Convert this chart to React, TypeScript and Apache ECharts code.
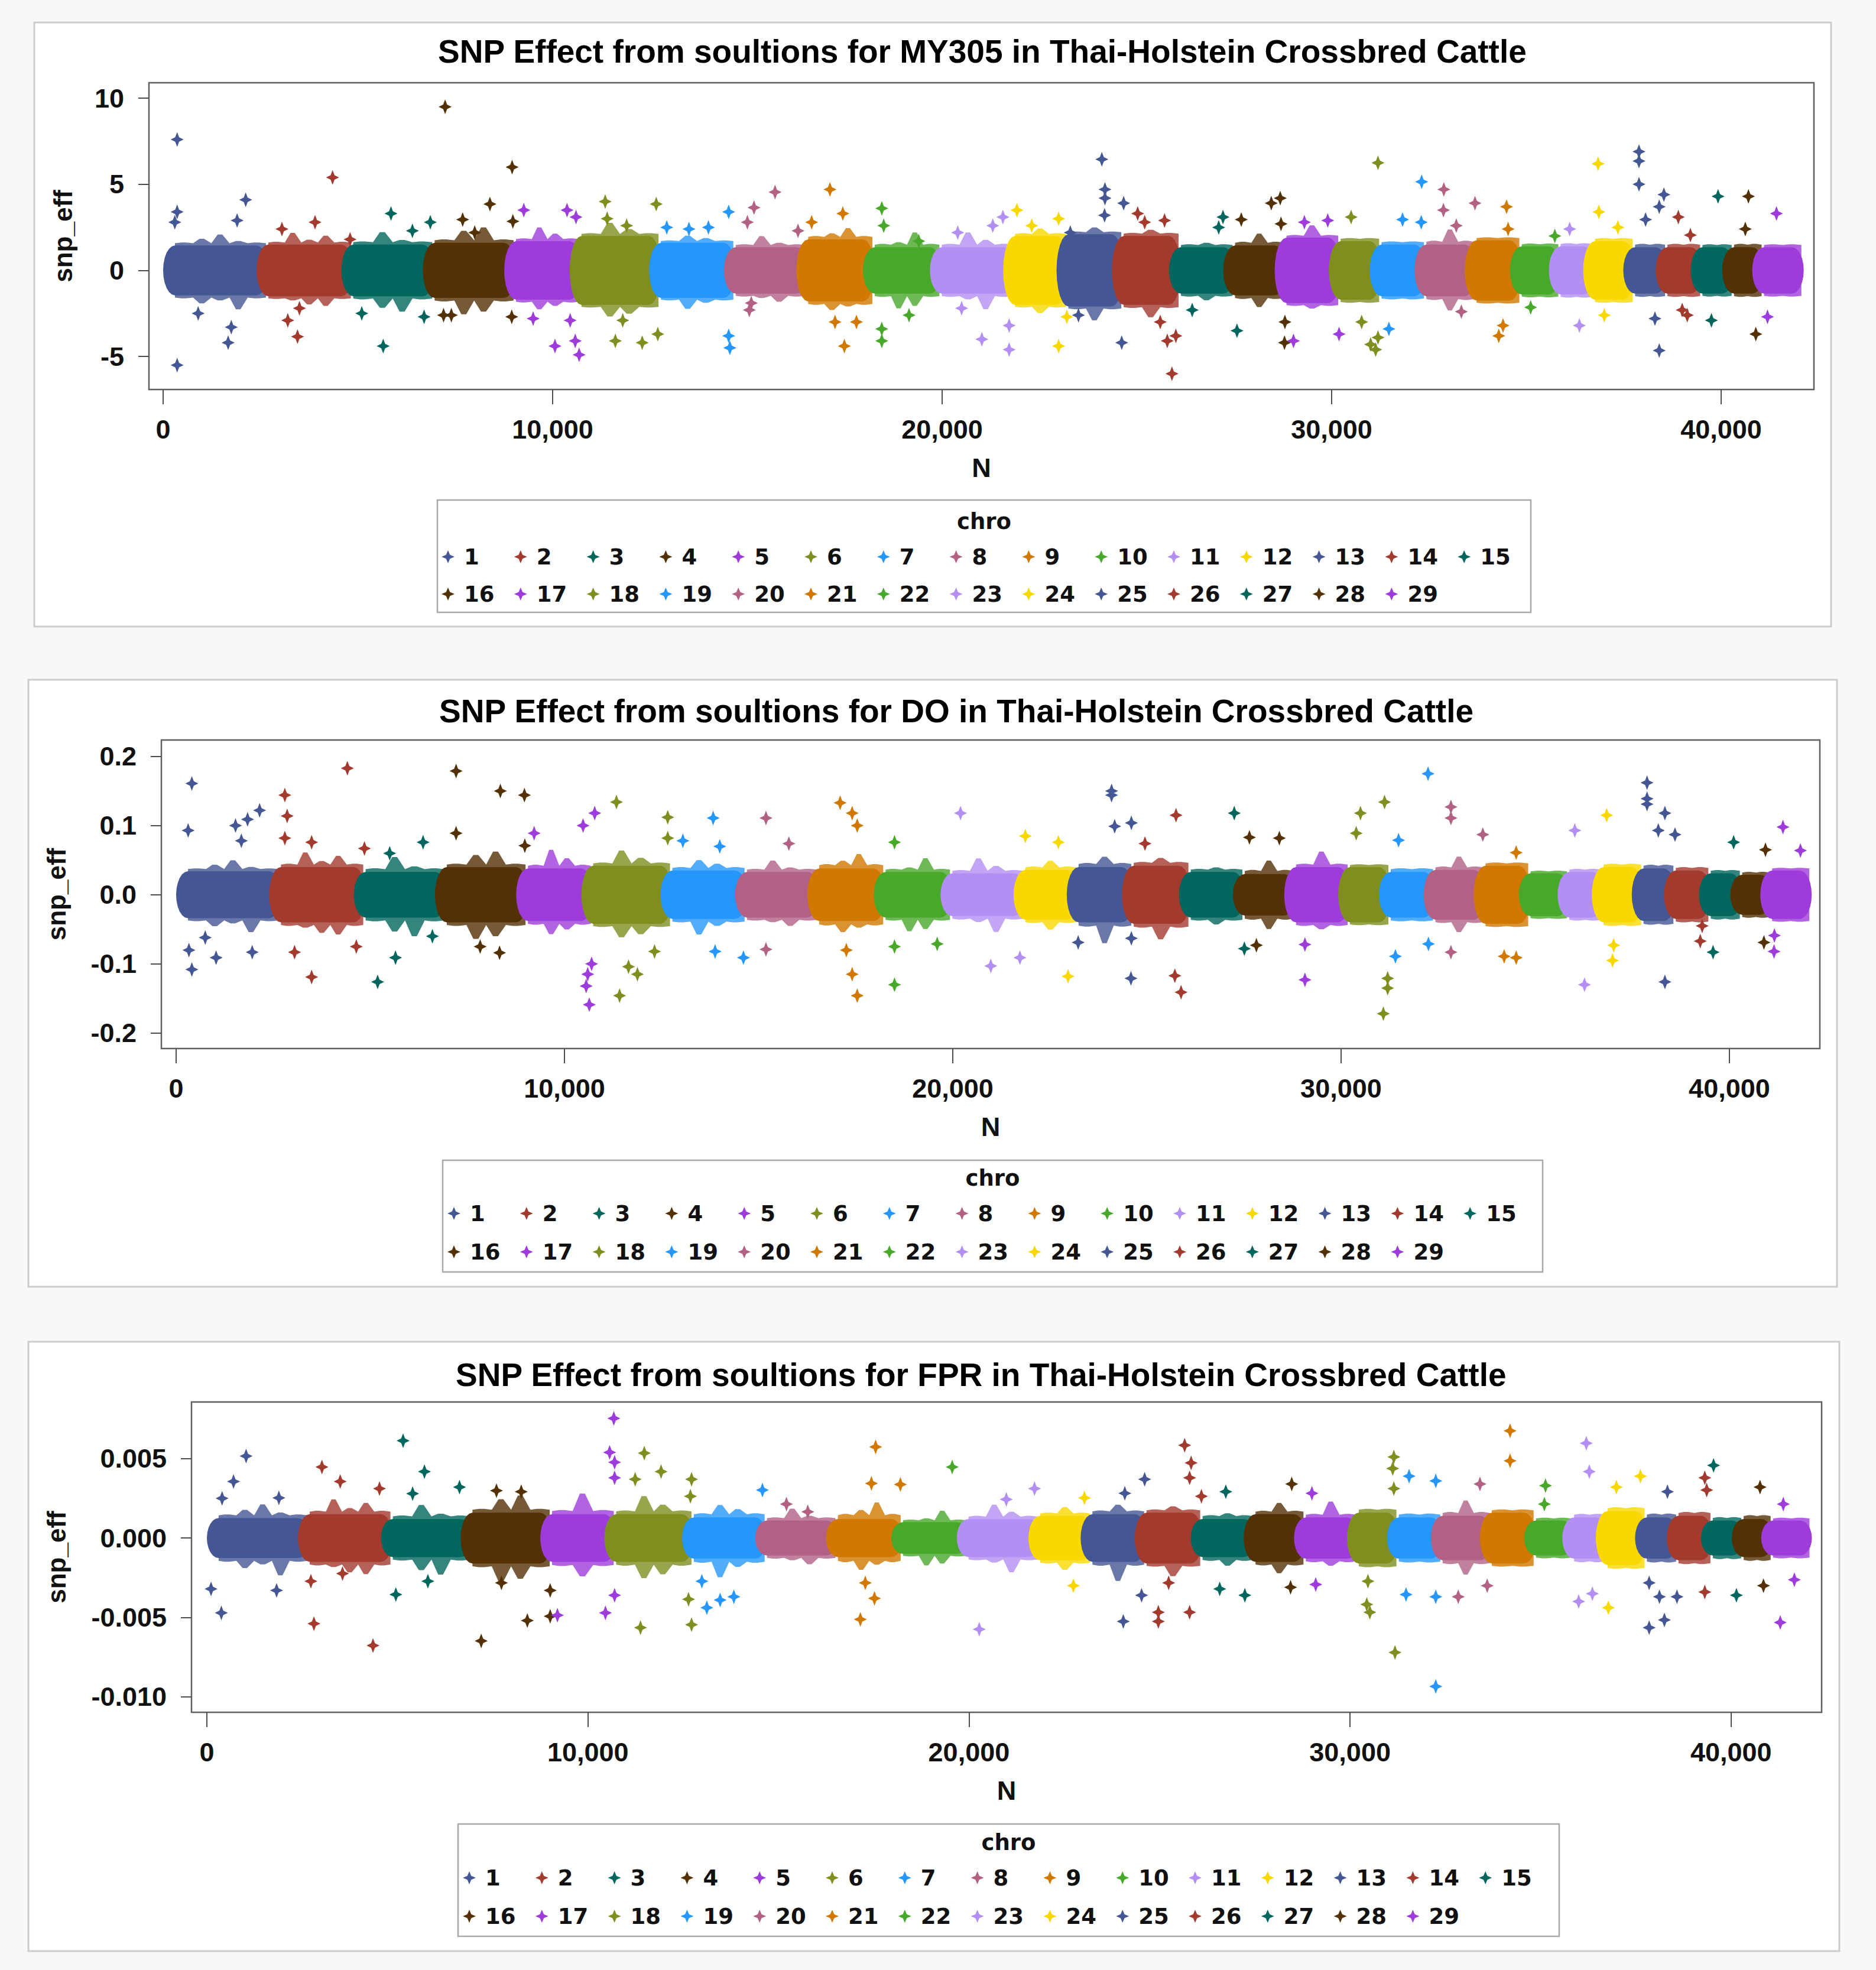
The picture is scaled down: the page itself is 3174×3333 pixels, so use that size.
import React, { useEffect, useRef } from "react";
import * as echarts from "echarts";

// ---------------- data ----------------
const CHROMOSOMES = ["1","2","3","4","5","6","7","8","9","10","11","12","13","14","15","16","17","18","19","20","21","22","23","24","25","26","27","28","29"];
const CHR_END = [2700, 4880, 6970, 9060, 10740, 12780, 14700, 16560, 18270, 19990, 21870, 23240, 24660, 26130, 27520, 28840, 30230, 31280, 32430, 33720, 34880, 35880, 36760, 37790, 38620, 39520, 40330, 41100, 42120];
const CHR_COLORS = ["#445694", "#A23A2E", "#01665E", "#543005", "#9D3CDB", "#7F8E1F", "#2597FA", "#B26084", "#D17800", "#47A82A", "#B38EF3", "#F9D800"];

const TITLES = [
  "SNP Effect from soultions for MY305 in Thai-Holstein Crossbred Cattle",
  "SNP Effect from soultions for DO in Thai-Holstein Crossbred Cattle",
  "SNP Effect from soultions for FPR in Thai-Holstein Crossbred Cattle",
];

const N_TICKS = [0, 10000, 20000, 30000, 40000];
const MY_TICKS = [-5, 0, 5, 10];
const DO_TICKS = [-0.2, -0.1, 0, 0.1, 0.2];
const FPR_TICKS = [-0.01, -0.005, 0, 0.005];

// dense-band half heights (solid core / sparse fringe) per chromosome
const MY_CORE = [1.45, 1.5, 1.5, 1.6, 1.7, 2.0, 1.6, 1.35, 1.8, 1.35, 1.35, 2.0, 2.1, 2.0, 1.35, 1.45, 1.9, 1.7, 1.5, 1.5, 1.75, 1.4, 1.4, 1.7, 1.35, 1.35, 1.35, 1.35, 1.35];
const MY_FRINGE = [2.3, 2.3, 2.4, 2.6, 2.5, 2.8, 2.3, 2.2, 2.8, 2.3, 2.3, 2.8, 2.9, 2.9, 2.2, 2.5, 2.7, 2.6, 2.4, 2.6, 2.6, 2.2, 2.3, 2.6, 2.3, 2.3, 2.2, 2.3, 2.2];
const DO_CORE = [0.034, 0.04, 0.033, 0.04, 0.038, 0.042, 0.035, 0.033, 0.038, 0.033, 0.031, 0.036, 0.04, 0.042, 0.033, 0.03, 0.04, 0.04, 0.033, 0.036, 0.042, 0.031, 0.033, 0.04, 0.038, 0.035, 0.031, 0.029, 0.035];
const DO_FRINGE = [0.055, 0.065, 0.06, 0.065, 0.065, 0.065, 0.06, 0.055, 0.07, 0.055, 0.055, 0.06, 0.07, 0.07, 0.055, 0.06, 0.065, 0.06, 0.06, 0.06, 0.065, 0.05, 0.055, 0.065, 0.065, 0.06, 0.055, 0.05, 0.055];
const FPR_CORE = [0.00126, 0.0015, 0.0012, 0.0016, 0.0015, 0.0015, 0.0013, 0.0011, 0.0012, 0.001, 0.0012, 0.0014, 0.0015, 0.0016, 0.0012, 0.0015, 0.0013, 0.0016, 0.0013, 0.0014, 0.0016, 0.0011, 0.0013, 0.0017, 0.0013, 0.0014, 0.0011, 0.0012, 0.0011];
const FPR_FRINGE = [0.0024, 0.0026, 0.0023, 0.0028, 0.0028, 0.0027, 0.0026, 0.0021, 0.0028, 0.0018, 0.0022, 0.0024, 0.0027, 0.0026, 0.0024, 0.0026, 0.0024, 0.0028, 0.0025, 0.0026, 0.0026, 0.002, 0.0024, 0.0029, 0.0025, 0.0026, 0.0022, 0.0024, 0.002];

// outlying SNPs: [chromosome, N, snp_eff]
const MY_POINTS = [
  [1,360,7.6],[1,360,-5.5],[1,2120,4.1],[1,360,3.4],[1,1670,-4.2],[1,1750,-3.3],[1,900,-2.5],[1,1900,2.9],[1,300,2.8],
  [2,4350,5.4],[2,3450,-3.85],[2,3900,2.8],[2,4800,1.8],[2,3050,2.4],[2,3500,-2.2],[2,3200,-2.9],
  [3,5850,3.3],[3,5650,-4.4],[3,6860,2.8],[3,6400,2.3],[3,5100,-2.5],[3,6700,-2.7],
  [4,7240,9.5],[4,8960,6.0],[4,8390,3.85],[4,7690,2.95],[4,7200,-2.6],[4,8980,2.85],[4,7400,-2.6],[4,8000,2.2],[4,8950,-2.7],
  [5,9260,3.5],[5,10370,3.5],[5,10060,-4.4],[5,10680,-4.9],[5,10600,3.1],[5,10580,-4.1],[5,10450,-2.9],[5,9500,-2.8],
  [6,11350,4.0],[6,11400,3.0],[6,12660,3.85],[6,11610,-4.1],[6,12300,-4.2],[6,12700,-3.7],[6,11900,2.6],[6,11800,-2.9],
  [7,14520,3.4],[7,14550,-4.5],[7,12930,2.5],[7,14520,-3.8],[7,13500,2.4],[7,14000,2.5],
  [8,15710,4.55],[8,15170,3.65],[8,15000,2.8],[8,15100,-1.9],[8,15050,-2.3],[8,16300,2.3],
  [9,17120,4.7],[9,17490,-4.4],[9,17450,3.3],[9,17250,-3.0],[9,16650,2.8],[9,17800,-3.0],
  [10,18450,3.6],[10,18450,-4.1],[10,18450,-3.4],[10,19150,-2.6],[10,18500,2.6],[10,19400,1.7],
  [11,21020,-4.0],[11,21720,-4.6],[11,21560,3.1],[11,21720,-3.2],[11,20400,2.2],[11,20500,-2.2],[11,21300,2.6],
  [12,21920,3.5],[12,22990,-4.4],[12,22990,3.0],[12,23200,-2.7],[12,22300,2.6],
  [13,24100,6.45],[13,24180,4.7],[13,24180,4.2],[13,24660,3.9],[13,24610,-4.2],[13,23290,2.2],[13,24170,3.2],[13,23500,-2.6],
  [14,25900,-6.0],[14,25780,-4.1],[14,26000,-3.8],[14,25600,-3.0],[14,25020,3.3],[14,25710,2.9],[14,25200,2.8],
  [15,27210,3.1],[15,27570,-3.5],[15,26420,-2.3],[15,27100,2.5],
  [16,28680,4.2],[16,28450,3.9],[16,27680,2.95],[16,28790,-4.2],[16,28800,-3.0],[16,28700,2.7],
  [17,29020,-4.1],[17,30190,-3.7],[17,29300,2.8],[17,29900,2.9],
  [18,31190,6.25],[18,31130,-4.6],[18,31190,-3.9],[18,30770,-3.0],[18,30500,3.1],[18,31000,-4.3],
  [19,32310,5.15],[19,31820,2.95],[19,31470,-3.4],[19,32300,2.8],
  [20,32880,4.7],[20,33680,3.9],[20,32870,3.5],[20,33330,-2.4],[20,33200,2.6],
  [21,34490,3.7],[21,34290,-3.8],[21,34530,2.4],[21,34400,-3.2],
  [22,35730,2.0],[22,35110,-2.15],
  [23,36360,-3.2],[23,36110,2.4],
  [24,36840,6.2],[24,36860,3.4],[24,37350,2.5],[24,37000,-2.6],
  [25,37890,6.9],[25,37890,6.35],[25,37890,5.0],[25,38530,4.4],[25,38410,3.7],[25,38410,-4.65],[25,38060,2.95],[25,38300,-2.8],
  [26,38900,3.1],[26,39210,2.05],[26,39130,-2.6],[26,39000,-2.3],
  [27,39920,4.3],[27,39750,-2.9],
  [28,40700,4.3],[28,40890,-3.7],[28,40620,2.4],
  [29,41420,3.3],[29,41190,-2.7],
];

const DO_POINTS = [
  [1,405,0.161],[1,310,0.093],[1,2150,0.122],[1,1840,0.109],[1,1530,0.1],[1,1680,0.078],[1,405,-0.108],[1,330,-0.08],[1,1030,-0.091],[1,1960,-0.083],[1,750,-0.062],
  [2,2800,0.144],[2,2860,0.114],[2,2800,0.082],[2,3490,-0.119],[2,3050,-0.083],[2,4640,-0.075],[2,4410,0.183],[2,4850,0.067],[2,3490,0.076],
  [3,5190,-0.126],[3,5650,-0.091],[3,6360,0.076],[3,5500,0.06],[3,6600,-0.06],
  [4,7210,0.179],[4,8350,0.15],[4,8970,0.144],[4,7210,0.089],[4,8330,-0.084],[4,7830,-0.075],[4,8980,0.071],
  [5,9220,0.089],[5,10780,0.118],[5,10480,0.1],[5,10640,-0.159],[5,10560,-0.132],[5,10700,-0.1],[5,10600,-0.115],
  [6,11340,0.134],[6,12660,0.112],[6,12660,0.082],[6,11420,-0.146],[6,11880,-0.115],[6,11650,-0.104],[6,12320,-0.082],
  [7,13830,0.111],[7,13050,0.078],[7,14610,-0.091],[7,13880,-0.082],[7,14000,0.07],
  [8,15190,0.111],[8,15780,0.074],[8,15190,-0.079],
  [9,17100,0.133],[9,17410,0.118],[9,17540,0.1],[9,17540,-0.146],[9,17410,-0.115],[9,17260,-0.08],
  [10,18500,0.076],[10,18500,-0.13],[10,18500,-0.075],[10,19600,-0.071],
  [11,20200,0.118],[11,20980,-0.103],[11,21730,-0.091],
  [12,21870,0.085],[12,22970,-0.118],[12,22720,0.076],
  [13,24090,0.15],[13,24090,0.144],[13,24600,0.104],[13,24170,0.099],[13,24590,-0.121],[13,23230,-0.069],[13,24600,-0.063],
  [14,25750,0.115],[14,25720,-0.117],[14,25880,-0.141],[14,24950,0.074],
  [15,27250,0.118],[15,27510,-0.078],
  [16,27640,0.083],[16,28410,0.082],[16,27820,-0.073],
  [17,29070,-0.123],[17,29070,-0.072],
  [18,31120,0.134],[18,30500,0.118],[18,30390,0.089],[18,31090,-0.172],[18,31200,-0.121],[18,31200,-0.135],
  [19,32240,0.175],[19,31480,0.079],[19,31400,-0.089],[19,32250,-0.071],
  [20,32830,0.127],[20,32830,0.111],[20,33650,0.087],[20,32830,-0.083],
  [21,34200,-0.089],[21,34510,-0.091],[21,34510,0.061],
  [23,36020,0.093],[23,36270,-0.13],
  [24,36840,0.115],[24,36990,-0.095],[24,37020,-0.073],
  [25,37880,0.162],[25,37880,0.139],[25,37880,0.131],[25,38340,0.118],[25,38170,0.093],[25,38600,0.087],[25,38340,-0.126],
  [26,39250,-0.067],[26,39300,-0.045],
  [27,40110,0.076],[27,39580,-0.083],
  [28,40930,0.065],[28,40890,-0.069],
  [29,41380,0.098],[29,41830,0.064],[29,41150,-0.082],[29,41160,-0.059],
];

const FPR_POINTS = [
  [1,1030,0.00516],[1,700,0.00356],[1,380,-0.00471],[1,1890,0.00253],[1,110,-0.0032],[1,1830,-0.0033],[1,400,0.0025],
  [2,3020,0.00447],[2,3500,0.00356],[2,4530,0.00311],[2,2810,-0.00539],[2,4360,-0.00677],[2,2730,-0.00272],[2,3560,-0.00224],
  [3,5150,0.00613],[3,5710,0.00418],[3,6630,0.00321],[3,4960,-0.00356],[3,5800,-0.00272],[3,5400,0.0028],
  [4,7200,-0.00648],[4,8410,-0.00519],[4,9010,-0.00492],[4,7600,0.00298],[4,8250,0.00292],[4,7730,-0.00282],[4,9010,-0.0033],
  [5,10680,0.00753],[5,10570,0.00539],[5,10700,0.00477],[5,10460,-0.00471],[5,9200,-0.00486],[5,10700,-0.0036],[5,10700,0.00379],
  [6,11480,0.00535],[6,11920,0.00418],[6,12720,0.0037],[6,12690,0.00263],[6,11380,-0.00564],[6,12720,-0.00545],[6,12640,-0.00385],[6,11240,0.0037],
  [7,14580,0.00302],[7,13120,-0.00438],[7,13470,-0.0039],[7,13830,-0.0037],[7,12990,-0.00272],
  [8,15210,0.00214],[8,15770,0.00165],
  [9,17550,0.00574],[9,17440,0.00344],[9,18200,0.00337],[9,17150,-0.00512],[9,17520,-0.0038],[9,17280,-0.00282],
  [10,19560,0.00447],
  [11,20270,-0.00574],[11,20980,0.00243],[11,21720,0.00311],
  [12,22740,-0.003],[12,23030,0.00253],
  [13,24050,-0.00525],[13,24610,0.0037],[13,24090,0.00282],[13,24530,-0.0036],
  [14,25660,0.00584],[14,25830,0.00473],[14,25790,0.00379],[14,24970,-0.00525],[14,24970,-0.00467],[14,25790,-0.00467],[14,26100,0.00263],[14,25240,-0.00282],
  [15,26740,0.00292],[15,27240,-0.0036],[15,26580,-0.0032],
  [16,28470,0.0034],[16,28440,-0.0031],
  [17,29000,0.00282],[17,29100,-0.00292],
  [18,31150,0.0051],[18,31120,0.00438],[18,31150,0.00311],[18,31180,-0.0072],[18,30440,-0.00418],[18,30520,-0.00467],[18,30470,-0.00272],
  [19,31550,0.00389],[19,32250,0.0036],[19,32250,-0.00934],[19,31470,-0.00356],[19,32250,-0.0037],
  [20,33410,0.0034],[20,32840,-0.0037],[20,33600,-0.003],
  [21,34200,0.00675],[21,34200,0.00486],
  [22,35130,0.0033],[22,35100,0.00214],
  [23,36200,0.00597],[23,36280,0.00418],[23,36000,-0.00399],[23,36360,-0.0035],
  [24,37620,0.00389],[24,36990,0.00321],[24,36780,-0.00438],
  [25,37850,-0.00564],[25,38250,-0.00516],[25,37850,-0.00282],[25,38120,-0.0037],[25,38580,-0.0037],[25,38330,0.00292],
  [26,39310,0.00379],[26,39360,0.00302],[26,39310,-0.0034],
  [27,39540,0.00457],[27,40140,-0.0036],
  [28,40760,0.00321],[28,40850,-0.003],
  [29,41290,-0.00531],[29,41660,-0.00263],[29,41370,0.00214],
];

// ---------------- layout / style ----------------
const W = 3174;
const H = 3333;
const PANEL_BOX = [[58, 38, 3098, 1060], [48, 1150, 3108, 2177], [48, 2270, 3112, 3301]];
const GRID_BOX = [[252, 140, 3069, 659], [273, 1252, 3079, 1774], [324, 2372, 3082, 2897]];
const X_RANGE = [[-364, 42382], [-380, 42330], [-403, 42376]];
const Y_RANGE = [[-6.92, 10.9], [-0.2224, 0.2238], [-0.01097, 0.008564]];
const TITLE_POS = [[741, 87], [743, 1203], [771, 2326]];
const YNAME_GAP = [124, 156, 207];
const LEGEND_BOX = [[740, 846, 2590, 1036], [749, 1963, 2610, 2152], [775, 3086, 2638, 3276]];
const LEGEND_ROWS = [[942, 1005], [2053, 2118], [3177, 3242]];
const LEGEND_MARKER0 = [769, 779, 805];
const LEGEND_PITCH = 122.8;
const CHRO_Y = [882, 1993, 3117];
// texture of the ragged band edge (fraction of the fringe reached by each spike)
const EDGE_TEXTURE = [0.9, 0.45, 0.75, 0.3, 1.0, 0.55, 0.85, 0.35, 0.65, 0.95, 0.5, 0.8, 0.3, 0.9, 0.6, 0.4, 0.7];
const TOOTH_PX = 30;

const STAR = "path://M10 0L13 7L20 10L13 13L10 20L7 13L0 10L7 7Z";
const SANS = "'Liberation Sans', Arial, sans-serif";
const LEG_FONT = "'DejaVu Sans', Verdana, sans-serif";

function colorOf(k: number) {
  return CHR_COLORS[k % CHR_COLORS.length];
}

function capPoints(x0: number, x1: number, yc: number, hp: number, rx: number) {
  const pts: number[][] = [];
  const n = 12;
  for (let i = 0; i <= n; i++) {
    const t = -Math.PI / 2 + (Math.PI * i) / n;
    pts.push([x1 - rx + rx * Math.cos(t), yc + hp * Math.sin(t)]);
  }
  for (let i = 0; i <= n; i++) {
    const t = Math.PI / 2 - (Math.PI * i) / n;
    pts.push([x0 + rx - rx * Math.cos(t), yc + hp * Math.sin(t)]);
  }
  return pts;
}

function raggedPoints(x0: number, x1: number, yc: number, hc: number, hf: number, k: number) {
  const teeth = Math.max(2, Math.round((x1 - x0) / TOOTH_PX));
  const step = (x1 - x0) / teeth;
  const L = EDGE_TEXTURE.length;
  const valley = hc + (hf - hc) * 0.15;
  const top: number[][] = [];
  const bot: number[][] = [];
  for (let i = 0; i < teeth; i++) {
    const xa = x0 + i * step;
    const ft = i === 0 || i === teeth - 1 ? 0.2 : EDGE_TEXTURE[(i + k * 5) % L];
    const fb = i === 0 || i === teeth - 1 ? 0.2 : EDGE_TEXTURE[(i * 2 + k * 7 + 3) % L];
    const tt = hc + (hf - hc) * ft;
    const tb = hc + (hf - hc) * fb;
    top.push([xa, yc - valley]);
    top.push([xa + step * 0.35, yc - tt]);
    top.push([xa + step * 0.6, yc - tt]);
    bot.push([xa, yc + valley]);
    bot.push([xa + step * 0.35, yc + tb]);
    bot.push([xa + step * 0.6, yc + tb]);
  }
  top.push([x1, yc - valley]);
  bot.push([x1, yc + valley]);
  return top.concat(bot.reverse());
}

function makeRender(kind: "core" | "fringe") {
  return (_params: any, api: any) => {
    const s = api.value(0);
    const e = api.value(1);
    const core = api.value(2);
    const fringe = api.value(3);
    const k = api.value(4);
    const a = api.coord([s, 0]);
    const bc = api.coord([e, core]);
    const bf = api.coord([e, fringe]);
    const rx = 20;
    const x0 = a[0] - (k > 0 ? rx : 0);
    const x1 = bc[0];
    const yc = a[1];
    const hc = Math.abs(a[1] - bc[1]);
    const hf = Math.abs(a[1] - bf[1]);
    const c = colorOf(k);
    if (kind === "core") {
      return { type: "polygon", shape: { points: capPoints(x0, x1, yc, hc, rx) }, style: { fill: c } };
    }
    return {
      type: "polygon",
      shape: { points: raggedPoints(x0 + rx, x1 - 4, yc, hc, hf, k) },
      style: { fill: c, opacity: 0.8 },
    };
  };
}

const PANELS = [
  { core: MY_CORE, fringe: MY_FRINGE, points: MY_POINTS, ticks: MY_TICKS, fmt: (v: number) => String(v) },
  { core: DO_CORE, fringe: DO_FRINGE, points: DO_POINTS, ticks: DO_TICKS, fmt: (v: number) => v.toFixed(1) },
  { core: FPR_CORE, fringe: FPR_FRINGE, points: FPR_POINTS, ticks: FPR_TICKS, fmt: (v: number) => v.toFixed(3) },
];

function buildOption() {
  const grid: any[] = [];
  const xAxis: any[] = [];
  const yAxis: any[] = [];
  const series: any[] = [];
  const legend: any[] = [];
  const title: any[] = [];
  const elements: any[] = [];

  PANELS.forEach((panel, p) => {
    const [gl, gt, gr, gb] = GRID_BOX[p];
    grid.push({
      left: gl, top: gt, width: gr - gl, height: gb - gt,
      show: true, backgroundColor: "#ffffff", borderColor: "#5f5f5f", borderWidth: 2.5,
      containLabel: false, outerBoundsMode: "none",
    });
    xAxis.push({
      type: "value", gridIndex: p, min: X_RANGE[p][0], max: X_RANGE[p][1],
      axisLine: { show: false, onZero: false },
      axisTick: { show: true, length: 25, customValues: N_TICKS, lineStyle: { color: "#4d4d4d", width: 2 } },
      axisLabel: {
        customValues: N_TICKS, margin: 45, fontSize: 45, fontWeight: "bold", fontFamily: SANS, color: "#111",
        formatter: (v: number) => v.toLocaleString("en-US"),
      },
      splitLine: { show: false },
      name: "N", nameLocation: "middle", nameGap: 110, nameMoveOverlap: false,
      nameTextStyle: { fontSize: 45, fontWeight: "bold", fontFamily: SANS, color: "#111" },
    });
    yAxis.push({
      type: "value", gridIndex: p, min: Y_RANGE[p][0], max: Y_RANGE[p][1],
      axisLine: { show: false, onZero: false },
      axisTick: { show: true, length: 18, customValues: panel.ticks, lineStyle: { color: "#4d4d4d", width: 2 } },
      axisLabel: {
        customValues: panel.ticks, margin: 42, fontSize: 45, fontWeight: "bold", fontFamily: SANS, color: "#111",
        formatter: panel.fmt,
      },
      splitLine: { show: false },
      name: "snp_eff", nameLocation: "middle", nameGap: YNAME_GAP[p], nameMoveOverlap: false,
      nameTextStyle: { fontSize: 44, fontWeight: "bold", fontFamily: SANS, color: "#111" },
    });

    const bands = CHR_END.map((e, k) => [k === 0 ? 0 : CHR_END[k - 1], e, panel.core[k], panel.fringe[k], k]);
    series.push({
      type: "custom", name: "fringe" + p, xAxisIndex: p, yAxisIndex: p, data: bands,
      encode: { x: [0, 1], y: [2, 3] }, renderItem: makeRender("fringe"), silent: true, z: 2,
    });
    series.push({
      type: "custom", name: "core" + p, xAxisIndex: p, yAxisIndex: p, data: bands,
      encode: { x: [0, 1], y: [2, 3] }, renderItem: makeRender("core"), silent: true, z: 3,
    });
    CHROMOSOMES.forEach((name, k) => {
      series.push({
        type: "scatter", name, xAxisIndex: p, yAxisIndex: p,
        data: panel.points.filter((d) => d[0] === k + 1).map((d) => [d[1], d[2]]),
        symbol: STAR, symbolSize: [22, 25], itemStyle: { color: colorOf(k), opacity: 1 },
        silent: true, z: 4,
      });
      const row = k < 15 ? 0 : 1;
      const col = k < 15 ? k : k - 15;
      legend.push({
        left: LEGEND_MARKER0[p] + col * LEGEND_PITCH - 22, top: LEGEND_ROWS[p][row] - 19,
        orient: "horizontal", padding: 0, itemWidth: 44, itemHeight: 22, itemGap: 0,
        icon: STAR, symbolKeepAspect: true, data: [name], selectedMode: false,
        textStyle: { fontFamily: LEG_FONT, fontSize: 37, fontWeight: "bold", color: "#111", lineHeight: 38 },
      });
    });

    title.push({
      text: TITLES[p], left: TITLE_POS[p][0], top: TITLE_POS[p][1] - 30, padding: 0,
      textStyle: { fontSize: 55, fontWeight: "bold", fontFamily: SANS, color: "#000", lineHeight: 60 },
    });

    const [bl, bt, br, bb] = PANEL_BOX[p];
    elements.push({
      type: "rect", z: -10, silent: true,
      shape: { x: bl, y: bt, width: br - bl, height: bb - bt },
      style: { fill: "#ffffff", stroke: "#cccccc", lineWidth: 3 },
    });
    const [ll, lt, lr, lb] = LEGEND_BOX[p];
    elements.push({
      type: "rect", z: -5, silent: true,
      shape: { x: ll, y: lt, width: lr - ll, height: lb - lt },
      style: { fill: "#ffffff", stroke: "#a9a9a9", lineWidth: 2.5 },
    });
    elements.push({
      type: "text", z: 5, silent: true, x: (ll + lr) / 2, y: CHRO_Y[p],
      style: { text: "chro", fontSize: 37, fontWeight: "bold", fontFamily: LEG_FONT, fill: "#111", align: "center", verticalAlign: "middle" },
    });
  });

  return {
    animation: false,
    backgroundColor: "#f7f8fa",
    title,
    grid,
    xAxis,
    yAxis,
    legend,
    series,
    graphic: { elements },
  };
}

export default function App() {
  const ref = useRef<HTMLDivElement>(null);
  useEffect(() => {
    if (!ref.current) return;
    const chart = echarts.init(ref.current, undefined, { renderer: "svg", width: W, height: H });
    chart.setOption(buildOption() as any);
    return () => chart.dispose();
  }, []);
  return <div ref={ref} style={{ position: "absolute", left: 0, top: 0, width: W, height: H }} />;
}
